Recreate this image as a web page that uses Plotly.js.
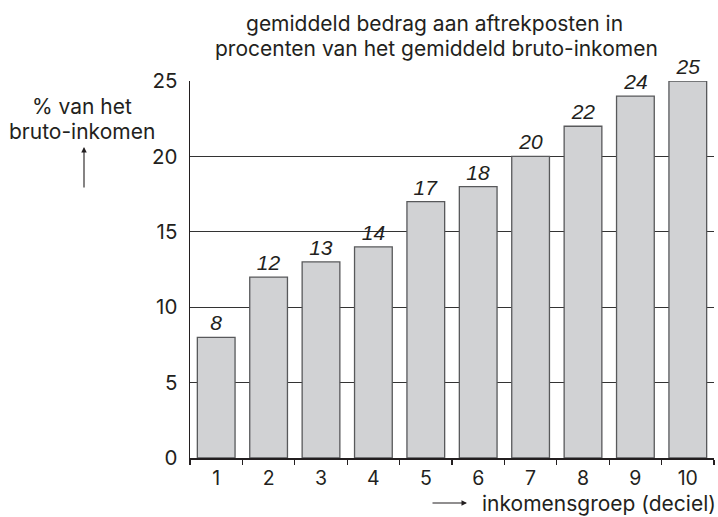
<!DOCTYPE html>
<html><head><meta charset="utf-8">
<script src="https://cdn.plot.ly/plotly-3.0.1.min.js"></script>
<style>html,body{margin:0;padding:0;background:#fff}#c{width:718px;height:517px}</style>
</head><body><div id="c"></div>
<script>
const categories = ['1','2','3','4','5','6','7','8','9','10'];
const values = [8, 12, 13, 14, 17, 18, 20, 22, 24, 25];
const yTicks = [0, 5, 10, 15, 20, 25];
const titleLines = ['gemiddeld bedrag aan aftrekposten in', 'procenten van het gemiddeld bruto-inkomen'];
const yLabel = ['% van het', 'bruto-inkomen'];
const xLabel = 'inkomensgroep (deciel)';

const W = 718, H = 517;
const L = 190, R = 4, T = 81, B = 59;
const pw = W - L - R, ph = H - T - B;
const px = x => (x - L) / pw;
const py = y => (H - B - y) / ph;
const ink = '#231f20';
const sans = 'Inter, Liberation Sans, Arial, sans-serif';
const fs = 21;

const trace = {
  type: 'bar', x: categories, y: values,
  marker: {color: '#d1d2d4', line: {color: '#58595b', width: 1.3}},
  text: values.map(String), textposition: 'outside',
  textfont: {family: 'Liberation Sans Narrow, Arial Narrow, sans-serif', size: 21, color: ink, style: 'italic'},
  cliponaxis: false, hoverinfo: 'none'
};

const layout = {
  width: W, height: H,
  margin: {l: L, r: R, t: T, b: B},
  paper_bgcolor: '#fff', plot_bgcolor: '#fff',
  showlegend: false, bargap: 0.28,
  font: {family: sans, color: ink},
  xaxis: {type: 'category', showline: true, linecolor: ink, linewidth: 1.5,
          ticks: 'outside', tickson: 'boundaries', ticklen: 5, tickcolor: ink, tickwidth: 1.3,
          ticklabelstandoff: 2,
          tickfont: {family: sans, size: 19.5, color: ink}, showgrid: false, zeroline: false, fixedrange: true},
  yaxis: {range: [0, 25], tickvals: yTicks, ticktext: yTicks.map(String),
          showline: true, linecolor: ink, linewidth: 1.5, ticks: '',
          ticklabelstandoff: 7,
          tickfont: {family: sans, size: 20.5, color: ink},
          showgrid: true, gridcolor: '#333', gridwidth: 1, zeroline: false, fixedrange: true},
  annotations: [
    {xref: 'paper', yref: 'paper', x: px(434), y: py(23), text: titleLines[0],
     showarrow: false, xanchor: 'center', yanchor: 'middle', font: {size: fs, color: ink}},
    {xref: 'paper', yref: 'paper', x: px(436), y: py(48), text: titleLines[1],
     showarrow: false, xanchor: 'center', yanchor: 'middle', font: {size: fs, color: ink}},
    {xref: 'paper', yref: 'paper', x: px(82), y: py(106), text: yLabel[0],
     showarrow: false, xanchor: 'center', yanchor: 'middle', font: {size: fs, color: ink}},
    {xref: 'paper', yref: 'paper', x: px(82), y: py(131), text: yLabel[1],
     showarrow: false, xanchor: 'center', yanchor: 'middle', font: {size: fs, color: ink}},
    {xref: 'paper', yref: 'paper', x: px(84), y: py(147), text: '', showarrow: true,
     ax: 0, ay: 42, arrowhead: 2, arrowsize: 1, arrowwidth: 1.1, arrowcolor: ink, standoff: 0, startstandoff: 0},
    {xref: 'paper', yref: 'paper', x: px(467), y: py(503), text: '', showarrow: true,
     ax: -36, ay: 0, arrowhead: 2, arrowsize: 1, arrowwidth: 1.1, arrowcolor: ink, standoff: 0, startstandoff: 0},
    {xref: 'paper', yref: 'paper', x: px(718), y: py(503), text: xLabel,
     showarrow: false, xanchor: 'right', yanchor: 'middle', font: {size: fs, color: ink}}
  ]
};

Plotly.newPlot('c', [trace], layout, {displayModeBar: false, staticPlot: true});
</script></body></html>
